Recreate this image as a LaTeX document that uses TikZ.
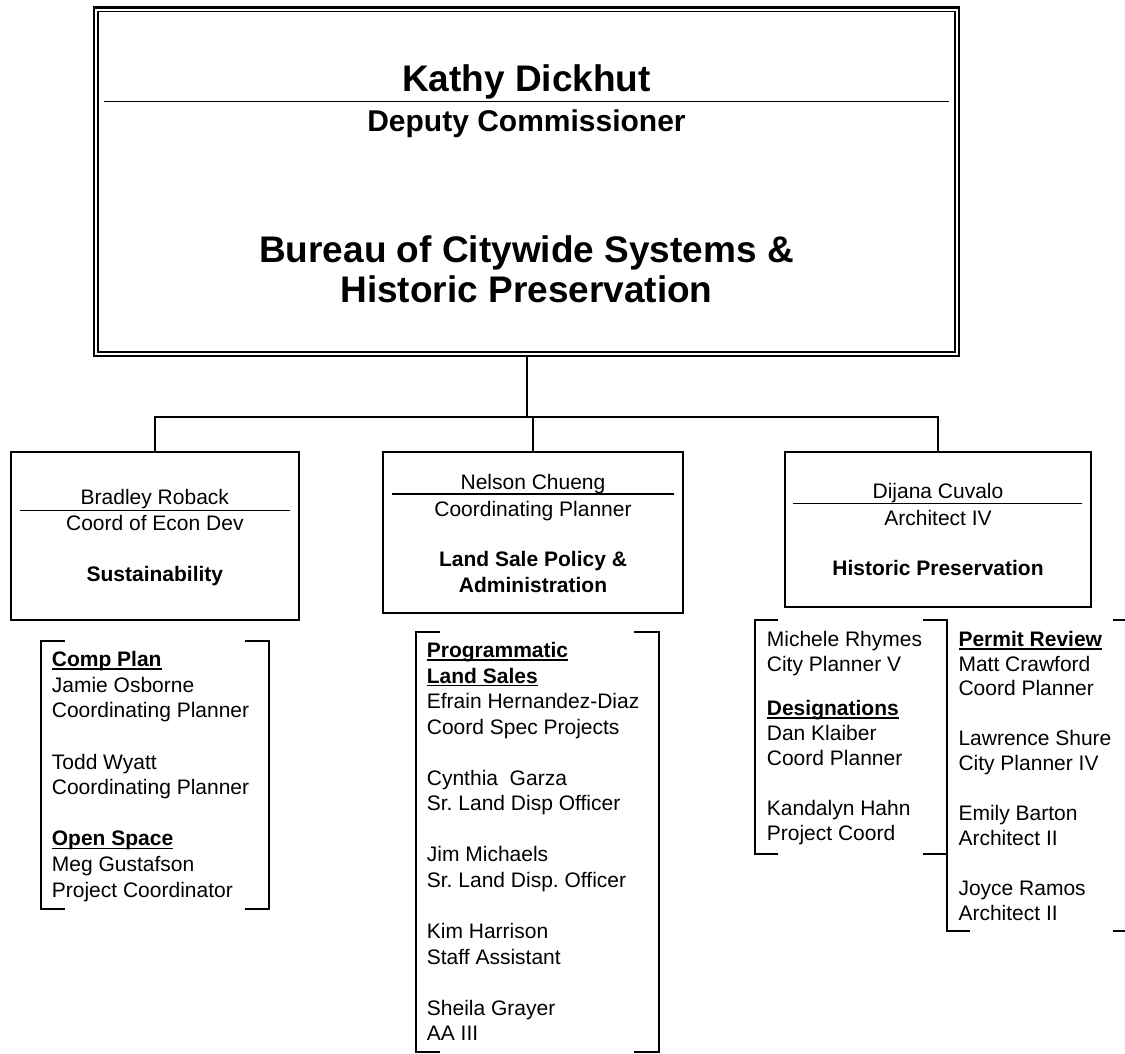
\documentclass[tikz,border=0pt]{standalone}
\usepackage{fontspec}
\setmainfont{Liberation Sans}
\frenchspacing
\newsavebox\hdbox
\newcommand\hdul[1]{\sbox\hdbox{#1}\rlap{\vrule width\wd\hdbox height -1.6pt depth 3.3pt}\usebox\hdbox}
\begin{document}
\begin{tikzpicture}[x=1pt,y=-1pt,
  frame/.style={draw, line width=2pt, inner sep=0pt},
  rule/.style={line width=1.4pt},
  conn/.style={line width=2pt},
  brk/.style={line width=2pt},
  big/.style={font=\fontsize{37}{42}\selectfont\bfseries, inner sep=0pt, anchor=base},
  mid/.style={font=\fontsize{30}{34}\selectfont\bfseries, inner sep=0pt, anchor=base},
  sm/.style={font=\fontsize{21}{25}\selectfont, inner sep=0pt, anchor=base},
  smb/.style={font=\fontsize{21}{25}\selectfont\bfseries, inner sep=0pt, anchor=base},
  li/.style={sm, anchor=base west},
  lib/.style={smb, anchor=base west}]
\useasboundingbox (0,0) rectangle (1125,1053);
\fill[white] (0,0) rectangle (1125,1053);

% top box
\node[frame, line width=2.4pt, minimum width=865pt, minimum height=348.7pt] (top) at (526.5,181.65) {};
\draw[line width=1.8pt] ([shift={(5.2,5.3)}]top.north west) rectangle ([shift={(-5.2,-5.3)}]top.south east);
\node[big] (kd) at (526.5,91.5) {Kathy Dickhut};
\draw[rule] (104,101.7) -- (949,101.7);
\node[mid] (dc) at (526.5,131.5) {Deputy Commissioner};
\node[big] (bu1) at (526.5,262.5) {Bureau of Citywide Systems \&};
\node[big] (bu2) at (526.5,302.5) {Historic Preservation};

% sub boxes
\node[frame, minimum width=288.3pt, minimum height=168.3pt] (b1) at (154.85,535.85) {};
\node[frame, minimum width=300pt, minimum height=161.3pt] (b2) at (533,532.35) {};
\node[frame, minimum width=306pt, minimum height=155pt] (b3) at (938,529.2) {};

% connectors
\coordinate (j) at (527,417);
\draw[conn] (top.south -| j) -- (j);
\draw[conn] (b1.north) |- (b3.north |- j) -- (b3.north);
\draw[conn] (b2.north) -- (b2.north |- j);

% box 1 text
\node[sm] (b1n) at (154.85,504.3) {Bradley Roback};
\draw[rule] (20,510.3) -- (290,510.3);
\node[sm] (b1t) at (154.85,530.7) {Coord of Econ Dev};
\node[smb] (b1d) at (154.85,581) {Sustainability};

% box 2 text
\node[sm] (b2n) at (533,489.3) {Nelson Chueng};
\draw[rule] (391.7,494) -- (674,494);
\node[sm] (b2t) at (533,516.3) {Coordinating Planner};
\node[smb] (b2d1) at (533,566.5) {Land Sale Policy \&};
\node[smb] (b2d2) at (533,592.3) {Administration};

% box 3 text
\node[sm] (b3n) at (938,498.3) {Dijana Cuvalo};
\draw[rule] (793,503.3) -- (1081.7,503.3);
\node[sm] (b3t) at (938,525) {Architect IV};
\node[smb] (b3d) at (938,575.5) {Historic Preservation};

% left list
\node[lib] (l1) at (51.7,666.7) {\hdul{Comp Plan}};
\node[li] (l2) at (51.7,692.3) {Jamie Osborne};
\node[li] (l3) at (51.7,717.9) {Coordinating Planner};
\node[li] (l4) at (51.7,769.1) {Todd Wyatt};
\node[li] (l5) at (51.7,794.7) {Coordinating Planner};
\node[lib] (l6) at (51.7,845.9) {\hdul{Open Space}};
\node[li] (l7) at (51.7,871.5) {Meg Gustafson};
\node[li] (l8) at (51.7,897.1) {Project Coordinator};
\draw[brk] (65,641) -- (40.7,641) -- (40.7,908.7) -- (65,908.7);
\draw[brk] (245,641) -- (269,641) -- (269,908.7) -- (245,908.7);

% middle list
\node[lib] (m1) at (426.7,657.4) {\hdul{Programmatic}};
\node[lib] (m2) at (426.7,683) {\hdul{Land Sales}};
\node[li] (m3) at (426.7,708.5) {Efrain Hernandez-Diaz};
\node[li] (m4) at (426.7,734.1) {Coord Spec Projects};
\node[li] (m5) at (426.7,785.2) {Cynthia\ \ Garza};
\node[li] (m6) at (426.7,810.8) {Sr. Land Disp Officer};
\node[li] (m7) at (426.7,861.9) {Jim Michaels};
\node[li] (m8) at (426.7,887.5) {Sr. Land Disp. Officer};
\node[li] (m9) at (426.7,938.6) {Kim Harrison};
\node[li] (m10) at (426.7,964.2) {Staff Assistant};
\node[li] (m11) at (426.7,1015.3) {Sheila Grayer};
\node[li] (m12) at (426.7,1040.9) {AA III};
\draw[brk] (440,631.7) -- (416,631.7) -- (416,1051.7) -- (440,1051.7);
\draw[brk] (634,631.7) -- (659,631.7) -- (659,1051.7) -- (634,1051.7);

% right lists
\node[li] (r1) at (766.7,646.7) {Michele Rhymes};
\node[li] (r2) at (766.7,671.5) {City Planner V};
\node[lib] (r3) at (766.7,715.7) {\hdul{Designations}};
\node[li] (r4) at (766.7,740.6) {Dan Klaiber};
\node[li] (r5) at (766.7,765.5) {Coord Planner};
\node[li] (r6) at (766.7,815.3) {Kandalyn Hahn};
\node[li] (r7) at (766.7,840.2) {Project Coord};

\node[lib] (s1) at (958.3,646.7) {\hdul{Permit Review}};
\node[li] (s2) at (958.3,671) {Matt Crawford};
\node[li] (s3) at (958.3,695.9) {Coord Planner};
\node[li] (s4) at (958.3,745.7) {Lawrence Shure};
\node[li] (s5) at (958.3,770.6) {City Planner IV};
\node[li] (s6) at (958.3,820.4) {Emily Barton};
\node[li] (s7) at (958.3,845.3) {Architect II};
\node[li] (s8) at (958.3,895.1) {Joyce Ramos};
\node[li] (s9) at (958.3,920) {Architect II};

\draw[brk] (778,620) -- (755,620) -- (755,854) -- (778,854);
\draw[brk] (923,620) -- (947,620) -- (947,931) -- (970,931);
\draw[brk] (923,854) -- (947,854);
\draw[brk] (1113,620) -- (1125,620);
\draw[brk] (1113,931) -- (1125,931);
\end{tikzpicture}
\end{document}
